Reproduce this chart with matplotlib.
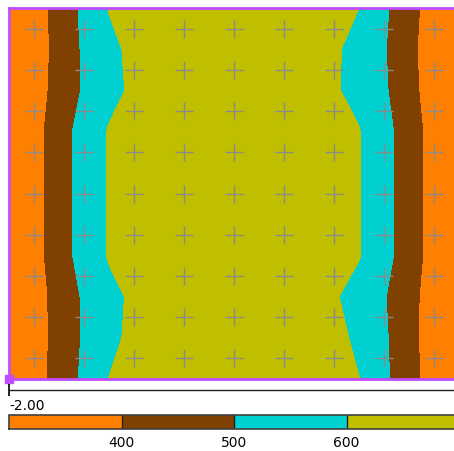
import numpy as np
import matplotlib
matplotlib.use("Agg")
import matplotlib.pyplot as plt
from matplotlib.colors import ListedColormap, BoundaryNorm

# grille des valeurs (colonnes en x, lignes en y depuis le haut)
x_cols = [0, 0.5, 1.0, 1.5, 2.0, 2.5, 4.5, 6.5, 7.0, 7.5, 8.0, 8.5, 9.0]
y_rows = [0, 1, 2, 3, 4, 5, 6, 7, 8, 9]
z = [
    [300, 360, 430, 522, 603, 622, 700, 620, 600, 517, 429, 360, 300],
    [300, 358, 426, 514, 583, 616, 700, 612, 570, 508, 421, 357, 300],
    [300, 361, 430, 511, 576, 614, 700, 611, 570, 514, 427, 358, 300],
    [300, 366, 450, 543, 606, 625, 700, 623, 604, 535, 444, 364, 300],
    [300, 366, 448, 543, 607, 625, 700, 623, 604, 535, 444, 364, 300],
    [300, 366, 448, 543, 607, 625, 700, 623, 604, 535, 444, 364, 300],
    [300, 366, 448, 543, 607, 625, 700, 623, 605, 535, 444, 364, 300],
    [300, 361, 431, 513, 577, 614, 700, 609, 565, 507, 427, 360, 300],
    [300, 361, 430, 511, 583, 616, 700, 617, 588, 515, 426, 358, 300],
    [300, 361, 432, 520, 601, 621, 700, 621, 601, 520, 430, 360, 300],
]
niveaux = [300, 400, 500, 600, 700]
couleurs = ["#ff8000", "#804000", "#00d0d0", "#bfbf00"]

# points de mesure (croix)
px = [0.5, 1.5, 2.5, 3.5, 4.5, 5.5, 6.5, 7.5, 8.5]
py = [0.5, 1.5, 2.5, 3.5, 4.5, 5.5, 6.5, 7.5, 8.5]

W, H = 454, 452
fig = plt.figure(figsize=(W / 100, H / 100), dpi=100)

ax = fig.add_axes([9 / W, 1 - 380 / H, 450 / W, 371 / H])
cmap = ListedColormap(couleurs)
norm = BoundaryNorm(niveaux, cmap.N)
X, Y = np.meshgrid(x_cols, y_rows)
cs = ax.contourf(X, Y, np.array(z), levels=niveaux, cmap=cmap, norm=norm)
gx, gy = np.meshgrid(px, py)
ax.scatter(gx.ravel(), gy.ravel(), marker="+", s=160, c="#8a8a8a", linewidths=1, zorder=3)
ax.set_xlim(0, 9)
ax.set_ylim(9, 0)
ax.set_xticks([])
ax.set_yticks([])
for sp in ax.spines.values():
    sp.set_color("#c04cff")
    sp.set_linewidth(2)
ax.plot([0], [9], marker="s", ms=6, color="#c04cff", clip_on=False, zorder=5)

# axe horizontal avec la premiere graduation
ax2 = fig.add_axes([9 / W, 1 - 391 / H, 450 / W, 0.001])
ax2.set_xlim(-2, 2)
ax2.set_yticks([])
for k in ["top", "left", "right"]:
    ax2.spines[k].set_visible(False)
ax2.spines["bottom"].set_color("#202020")
ax2.spines["bottom"].set_linewidth(1)
ax2.set_xticks([-2])
ax2.set_xticklabels(["-2.00"])
ax2.tick_params(axis="x", which="major", direction="inout", length=8, width=1.2,
                labelsize=10, pad=2)
for t in ax2.get_xticklabels():
    t.set_horizontalalignment("left")

# barre de couleurs
cax = fig.add_axes([9 / W, 1 - 430 / H, 450 / W, 14 / H])
cb = fig.colorbar(cs, cax=cax, orientation="horizontal")
cb.set_ticks([400, 500, 600])
cb.set_ticklabels(["400", "500", "600"])
cax.tick_params(axis="x", which="both", length=0, labelsize=10, pad=4)
cb.outline.set_edgecolor("#404040")
cb.outline.set_linewidth(1.2)
for v in [400, 500, 600]:
    cax.axvline(v, color="#202020", lw=1)

fig.savefig("out.png", dpi=100)
